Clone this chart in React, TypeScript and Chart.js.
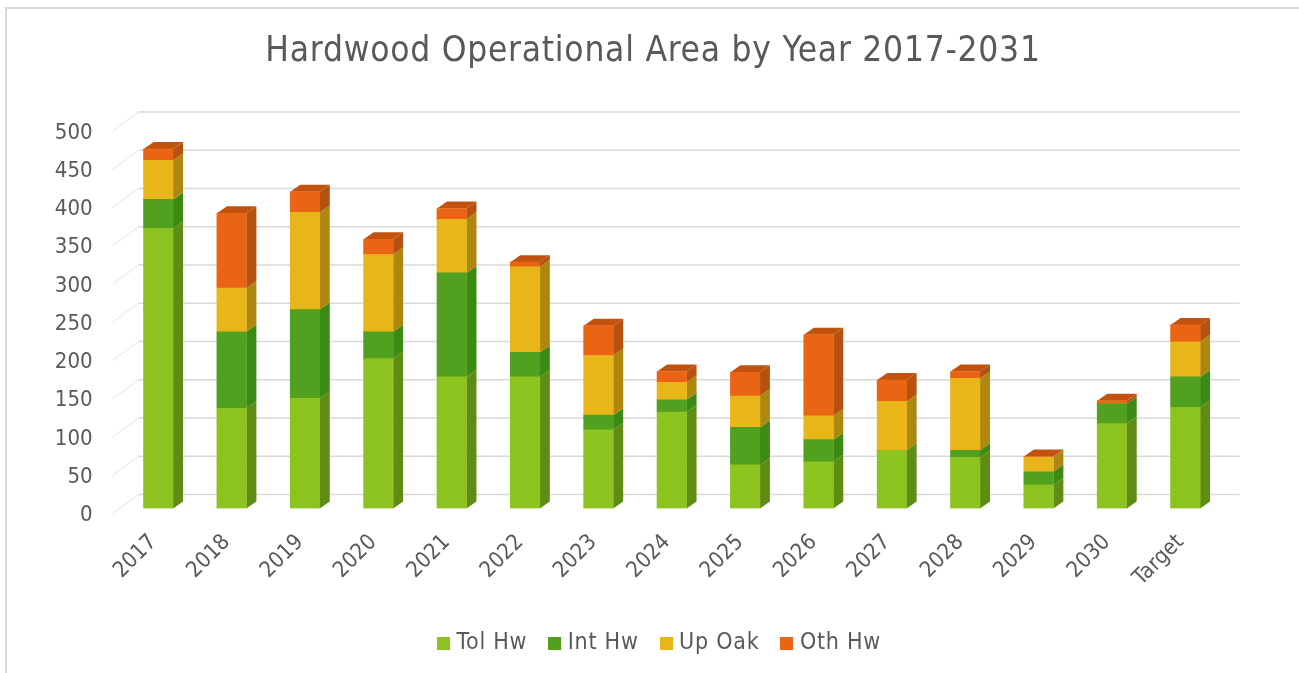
import React, { useEffect, useRef } from "react";
import { Chart, registerables } from "chart.js";

Chart.register(...registerables);

const categories = ["2017","2018","2019","2020","2021","2022","2023","2024","2025","2026","2027","2028","2029","2030","Target"];
const tolHw = [366,131,144,196,172,172,103,126,57,61,76,67,31,111,132];
const intHw = [38,100,116,35,136,32,19,16,49,29,0,9,17,26,40];
const upOak = [51,57,127,101,70,112,78,23,41,31,64,94,19,0,46];
const othHw = [15,98,27,20,14,6,39,14,31,106,28,9,1,4,22];

const seriesNames = ["Tol Hw", "Int Hw", "Up Oak", "Oth Hw"];
const seriesValues = [tolHw, intHw, upOak, othHw];
const frontColors = ["#8CC31F", "#52A01F", "#E8B618", "#E96514"];
const sideColors = ["#5F8C14", "#3A8A14", "#AE8710", "#B5520F"];
const topColor = "#C2530F";

const FONT = "'DejaVu Sans Condensed', 'DejaVu Sans', sans-serif";
const TEXT = "#595959";
const DEPTH_X = 10;
const DEPTH_Y = 7;
const BAR_LIFT = 7;
const WALL_RISE = 21;
const LEGEND_SHIFT = 8.5;

// Small colour square used as the legend marker.
function swatch(color: string) {
  const c = document.createElement("canvas");
  c.width = 13;
  c.height = 13;
  const g = c.getContext("2d")!;
  g.fillStyle = color;
  g.fillRect(0, 0, 13, 13);
  return c;
}

// Frame, receding gridlines and the side and top faces of the stacked columns.
const columns3d = {
  id: "columns3d",
  beforeLayout(chart: any) {
    chart.ctx.letterSpacing = "0.75px";
  },
  afterLayout(chart: any) {
    // Tick labels reach left of the narrow axis box; widen its drawing area.
    chart.scales.y.left = 10;
    chart.legend.left += LEGEND_SHIFT;
    chart.legend.right += LEGEND_SHIFT;
  },
  beforeDraw(chart: any) {
    const { ctx, width, height } = chart;
    ctx.save();
    ctx.fillStyle = "#ffffff";
    ctx.fillRect(0, 0, width, height);
    ctx.strokeStyle = "#d9d9d9";
    ctx.lineWidth = 2;
    ctx.beginPath();
    ctx.moveTo(6, height);
    ctx.lineTo(6, 8);
    ctx.lineTo(width, 8);
    ctx.stroke();
    ctx.restore();
    ctx.letterSpacing = "0.75px";
  },
  beforeDatasetsDraw(chart: any) {
    const { ctx, scales } = chart;
    const y = scales.y;
    const left = chart.chartArea.left;
    ctx.save();
    y.ticks.forEach((t: any) => {
      const py = y.getPixelForValue(t.value);
      ctx.lineWidth = 1;
      ctx.strokeStyle = "#e4e4e4";
      ctx.beginPath();
      ctx.moveTo(left - 9, py - 2);
      ctx.lineTo(left + 17, py - WALL_RISE);
      ctx.stroke();
      ctx.lineWidth = 1.5;
      ctx.strokeStyle = "#d9d9d9";
      ctx.beginPath();
      ctx.moveTo(left + 17, py - WALL_RISE);
      ctx.lineTo(left + 1118, py - WALL_RISE);
      ctx.stroke();
    });
    seriesValues.forEach((_, d) => {
      chart.getDatasetMeta(d).data.forEach((bar: any, i: number) => {
        const r = bar.x + bar.width / 2;
        if (seriesValues[d][i] > 0) {
          ctx.fillStyle = sideColors[d];
          ctx.beginPath();
          ctx.moveTo(r, bar.y - BAR_LIFT);
          ctx.lineTo(r + DEPTH_X, bar.y - BAR_LIFT - DEPTH_Y);
          ctx.lineTo(r + DEPTH_X, bar.base - BAR_LIFT - DEPTH_Y);
          ctx.lineTo(r, bar.base - BAR_LIFT);
          ctx.closePath();
          ctx.fill();
        }
        if (d === seriesValues.length - 1) {
          const l = bar.x - bar.width / 2;
          ctx.fillStyle = topColor;
          ctx.beginPath();
          ctx.moveTo(l, bar.y - BAR_LIFT);
          ctx.lineTo(l + DEPTH_X, bar.y - BAR_LIFT - DEPTH_Y);
          ctx.lineTo(r + DEPTH_X, bar.y - BAR_LIFT - DEPTH_Y);
          ctx.lineTo(r, bar.y - BAR_LIFT);
          ctx.closePath();
          ctx.fill();
        }
      });
    });
    ctx.restore();
    // Front faces sit slightly above the labelled axis plane.
    ctx.save();
    ctx.translate(0, -BAR_LIFT);
  },
  afterDatasetsDraw(chart: any) {
    chart.ctx.restore();
    // Axis labels are drawn after the columns, with normal spacing.
    chart.ctx.letterSpacing = "0px";
  },
};

export default function App() {
  const ref = useRef<HTMLCanvasElement>(null);

  useEffect(() => {
    const chart = new Chart(ref.current!, {
      type: "bar",
      data: {
        labels: categories,
        datasets: seriesNames.map((name, i) => ({
          label: name,
          data: seriesValues[i],
          backgroundColor: frontColors[i],
          borderWidth: 0,
          barThickness: 29.5,
        })),
      },
      options: {
        responsive: false,
        animation: false,
        layout: { padding: { left: 84, right: 77, top: 31, bottom: 8 } },
        scales: {
          x: {
            stacked: true,
            grid: { display: false, drawTicks: false },
            border: { display: false },
            ticks: {
              color: TEXT,
              font: { family: FONT, size: 22 },
              minRotation: 45,
              maxRotation: 45,
              padding: 14,
              labelOffset: -5,
              z: 1,
            },
            afterFit(s: any) { s.height = 90.5; },
          },
          y: {
            stacked: true,
            min: 0,
            max: 500,
            grid: { display: false, drawTicks: false },
            border: { display: false },
            ticks: {
              color: TEXT,
              font: { family: FONT, size: 22 },
              stepSize: 50,
              padding: 29,
              z: 1,
            },
            afterFit(s: any) { s.width = 37.6; },
          },
        },
        plugins: {
          title: {
            display: true,
            text: "Hardwood Operational Area by Year 2017-2031",
            color: TEXT,
            font: { family: FONT, size: 35, weight: "normal" },
            padding: { top: 0, bottom: 60 },
          },
          legend: {
            position: "bottom",
            labels: {
              color: TEXT,
              font: { family: FONT, size: 23 },
              usePointStyle: true,
              pointStyleWidth: 3,
              padding: 26,
              generateLabels: () =>
                seriesNames.map((text, i) => ({
                  text,
                  fontColor: TEXT,
                  pointStyle: swatch(frontColors[i]),
                  datasetIndex: i,
                })),
            },
          },
          tooltip: { enabled: false },
        },
      },
      plugins: [columns3d],
    } as any);
    return () => chart.destroy();
  }, []);

  return (
    <canvas
      ref={ref}
      width={1299}
      height={673}
      style={{ position: "fixed", left: 0, top: 0, display: "block" }}
    />
  );
}
